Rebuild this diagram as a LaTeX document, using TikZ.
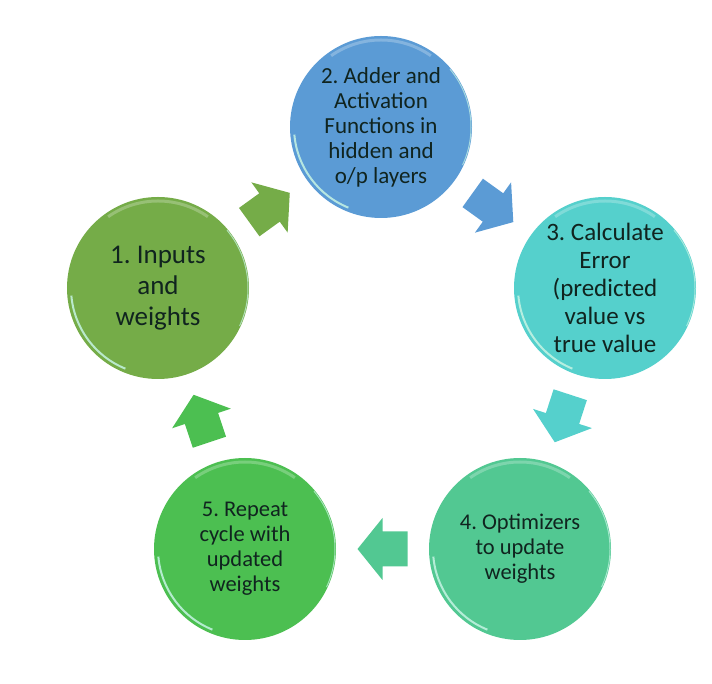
\documentclass[tikz,border=0pt]{standalone}
\usepackage{fontspec}
\setmainfont{Carlito}
\usetikzlibrary{calc}
\frenchspacing
\definecolor{cone}{HTML}{75AC48}
\definecolor{ctwo}{HTML}{5B9BD5}
\definecolor{cthree}{HTML}{55D0CC}
\definecolor{cfour}{HTML}{52C892}
\definecolor{cfive}{HTML}{4CBF51}
\definecolor{txtdark}{HTML}{10241F}
\definecolor{mint}{HTML}{C6F4E4}
\newcommand\cyclearrow[3]{%
  \path let \p1=(#1.center), \p2=(#2.center) in
    \pgfextra{\pgfmathsetmacro\arrang{atan2(\y2-\y1,\x2-\x1)}\xdef\arrang{\arrang}};
  \begin{scope}[shift={($(#1.center)!0.5!(#2.center)$)}, rotate=\arrang]
    \fill[#3] (-25,-17.5) -- (0,-17.5) -- (0,-31) -- (25,0) -- (0,31) -- (0,17.5) -- (-25,17.5) -- cycle;
  \end{scope}}
\newcommand\glossy[1]{%
  \draw[mint, line width=2bp, opacity=0.85] ($(#1.center)+(185:87)$) arc[start angle=185, end angle=248, radius=87];
  \draw[white, line width=3bp, opacity=0.25] ($(#1.center)+(55:87)$) arc[start angle=55, end angle=125, radius=87];
  \draw[mint, line width=1bp, opacity=0.7] ($(#1.center)+(-25:90)$) arc[start angle=-25, end angle=40, radius=90];}
\tikzset{
  stage/.style={circle, draw=none, minimum size=182bp, inner sep=0pt, align=center, text=txtdark},
}
\begin{document}
\begin{tikzpicture}[x=1bp, y=1bp]
\useasboundingbox (0,0) rectangle (712,684);
\node[stage, fill=cone, font=\fontsize{27bp}{31bp}\selectfont] (c1) at (158,396) {1. Inputs\\and\\weights};
\node[stage, fill=ctwo, font=\fontsize{23bp}{25bp}\selectfont] (c2) at (381,557) {2. Adder and\\Activation\\Functions in\\hidden and\\o/p layers};
\node[stage, fill=cthree, font=\fontsize{25bp}{28bp}\selectfont] (c3) at (605,396) {3. Calculate\\Error\\(predicted\\value vs\\true value};
\node[stage, fill=cfour, font=\fontsize{22.5bp}{25bp}\selectfont] (c4) at (520,135) {4. Optimizers\\to update\\weights};
\node[stage, fill=cfive, font=\fontsize{22.5bp}{25bp}\selectfont] (c5) at (245,135) {5. Repeat\\cycle with\\updated\\weights};
\glossy{c1}\glossy{c2}\glossy{c3}\glossy{c4}\glossy{c5}
\cyclearrow{c1}{c2}{cone}
\cyclearrow{c2}{c3}{ctwo}
\cyclearrow{c3}{c4}{cthree}
\cyclearrow{c4}{c5}{cfour}
\cyclearrow{c5}{c1}{cfive}
\end{tikzpicture}
\end{document}
